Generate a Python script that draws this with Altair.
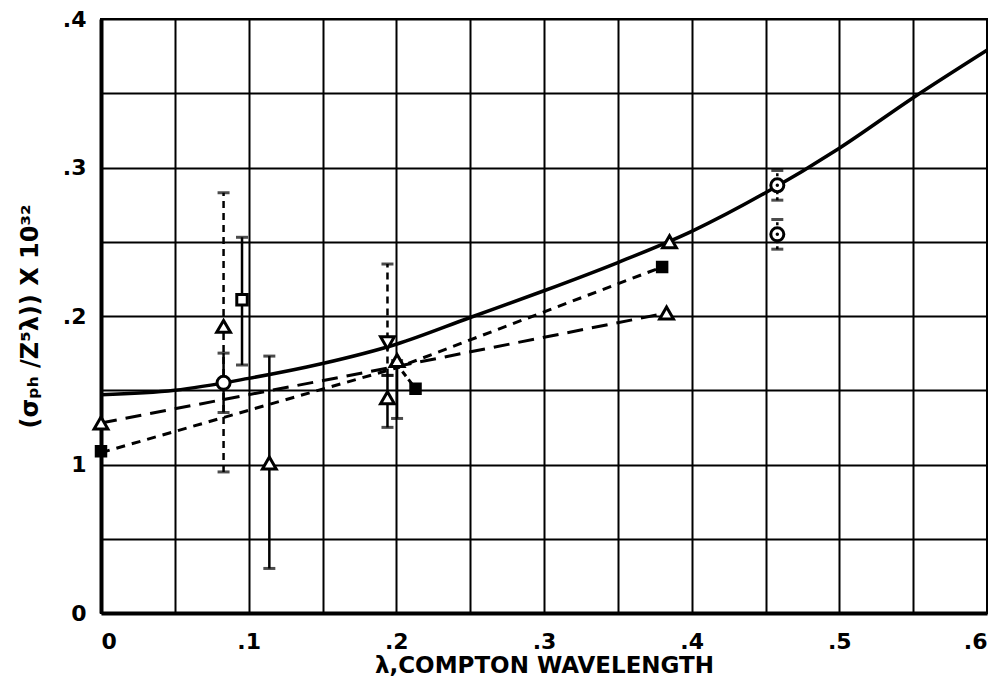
import altair as alt
import pandas as pd

# ---- data ----
curve_x = [0, 0.05, 0.1, 0.15, 0.2, 0.25, 0.3, 0.35, 0.4, 0.45, 0.5, 0.55, 0.6]
curve_y = [0.147, 0.150, 0.158, 0.168, 0.181, 0.199, 0.217, 0.236, 0.257, 0.283, 0.313, 0.347, 0.379]

longdash_x = [0, 0.2, 0.383]
longdash_y = [0.128, 0.166, 0.202]

shortdash_x = [0, 0.2, 0.38]
shortdash_y = [0.108, 0.165, 0.233]

link_x = [0.2, 0.213]
link_y = [0.168, 0.151]

tri_up_x = [0, 0.083, 0.114, 0.194, 0.2005, 0.385, 0.383]
tri_up_y = [0.128, 0.193, 0.101, 0.145, 0.170, 0.250, 0.202]

tri_down_x = [0.194]
tri_down_y = [0.182]

circ_x = [0.083, 0.458, 0.458]
circ_y = [0.155, 0.288, 0.255]

dot_x = [0.458, 0.458]
dot_y = [0.288, 0.255]

osq_x = [0.0955]
osq_y = [0.211]

fsq_x = [0, 0.213, 0.38]
fsq_y = [0.109, 0.151, 0.233]

# error bars: x, low, high
solid_err_x = [0.083, 0.0955, 0.114, 0.194, 0.2005]
solid_err_lo = [0.135, 0.167, 0.030, 0.125, 0.131]
solid_err_hi = [0.175, 0.253, 0.173, 0.160, 0.170]

dash_err_x = [0.083, 0.194]
dash_err_lo = [0.095, 0.160]
dash_err_hi = [0.283, 0.235]

dot_err_x = [0.458, 0.458]
dot_err_lo = [0.245, 0.278]
dot_err_hi = [0.265, 0.298]

x_ticks = [round(i * 0.05, 2) for i in range(13)]
y_ticks = [round(i * 0.05, 2) for i in range(9)]

FONT = "DejaVu Sans"

xs = alt.Scale(domain=[0, 0.6], nice=False, zero=False)
ys = alt.Scale(domain=[0, 0.4], nice=False, zero=False)

x_axis = alt.Axis(
    values=x_ticks,
    labelExpr="datum.value == 0 ? '0' : (round(datum.value*100) % 10 == 0 ? '.' + round(datum.value*10) : '')",
    grid=True, gridColor="black", gridWidth=2, gridOpacity=1,
    domain=True, domainColor="black", domainWidth=4,
    ticks=False, tickSize=0,
    labelFont=FONT, labelFontWeight="bold", labelFontSize=22, labelColor="black",
    labelPadding=18, labelFlush=True,
    title="λ,COMPTON WAVELENGTH",
    titleFont=FONT, titleFontWeight="bold", titleFontSize=23, titleColor="black",
    titleY=52, titleBaseline="middle",
)
y_axis = alt.Axis(
    values=y_ticks,
    labelExpr="datum.value == 0 ? '0' : (datum.value == 0.1 ? '1' : (round(datum.value*100) % 10 == 0 ? '.' + round(datum.value*10) : ''))",
    grid=True, gridColor="black", gridWidth=2, gridOpacity=1,
    domain=True, domainColor="black", domainWidth=4,
    ticks=False, tickSize=0,
    labelFont=FONT, labelFontWeight="bold", labelFontSize=22, labelColor="black",
    labelPadding=15, labelFlush=False,
    title="(σₚₕ /Z⁵λ)) X 10³²",
    titleFont=FONT, titleFontWeight="bold", titleFontSize=24, titleColor="black",
    titleX=-71, titleBaseline="middle", titleAngle=270,
)


def df(x, y):
    return pd.DataFrame({"x": x, "y": y})


def edf(x, lo, hi):
    return pd.DataFrame({"x": x, "lo": lo, "hi": hi})


X = alt.X("x:Q", scale=xs, axis=x_axis)
Y = alt.Y("y:Q", scale=ys, axis=y_axis)
Xn = alt.X("x:Q", scale=xs)
Yn = alt.Y("y:Q", scale=ys)

base = alt.Chart(df(curve_x, curve_y)).mark_line(
    color="black", strokeWidth=3.5, interpolate="monotone"
).encode(x=X, y=Y)

longdash = alt.Chart(df(longdash_x, longdash_y)).mark_line(
    color="black", strokeWidth=3, strokeDash=[16, 9]
).encode(x=Xn, y=Yn)

shortdash = alt.Chart(df(shortdash_x, shortdash_y)).mark_line(
    color="black", strokeWidth=3, strokeDash=[9, 7]
).encode(x=Xn, y=Yn)

link = alt.Chart(df(link_x, link_y)).mark_line(
    color="black", strokeWidth=3, strokeDash=[6, 4]
).encode(x=Xn, y=Yn)


def errbars(x, lo, hi, dash):
    d = edf(x, lo, hi)
    kw = {"color": "black", "strokeWidth": 2.5}
    if dash:
        kw["strokeDash"] = dash
    bar = alt.Chart(d).mark_rule(**kw).encode(
        x=Xn, y=alt.Y("lo:Q", scale=ys), y2="hi:Q"
    )
    cap_lo = alt.Chart(d).mark_tick(
        color="black", orient="horizontal", size=12, thickness=3
    ).encode(x=Xn, y=alt.Y("lo:Q", scale=ys))
    cap_hi = alt.Chart(d).mark_tick(
        color="black", orient="horizontal", size=12, thickness=3
    ).encode(x=Xn, y=alt.Y("hi:Q", scale=ys))
    return bar + cap_lo + cap_hi


err_solid = errbars(solid_err_x, solid_err_lo, solid_err_hi, None)
err_dash = errbars(dash_err_x, dash_err_lo, dash_err_hi, [7, 5])
err_dot = errbars(dot_err_x, dot_err_lo, dot_err_hi, [3, 3])


def pts(x, y, shape, filled, size=170):
    return alt.Chart(df(x, y)).mark_point(
        shape=shape, size=size, filled=False,
        fill="black" if filled else "white", fillOpacity=1,
        stroke="black", strokeWidth=3, opacity=1,
    ).encode(x=Xn, y=Yn)


tri_up = pts(tri_up_x, tri_up_y, "triangle-up", False, 190)
tri_down = pts(tri_down_x, tri_down_y, "triangle-down", False, 190)
circles = pts(circ_x, circ_y, "circle", False, 170)
dots = alt.Chart(df(dot_x, dot_y)).mark_point(
    shape="circle", size=12, filled=True, color="black", opacity=1
).encode(x=Xn, y=Yn)
osq = pts(osq_x, osq_y, "square", False, 110)
fsq = pts(fsq_x, fsq_y, "square", True, 90)

chart = alt.layer(
    base, longdash, shortdash, link,
    err_solid, err_dash, err_dot,
    tri_up, tri_down, circles, dots, osq, fsq,
).properties(
    width=886, height=594,
    autosize=alt.AutoSizeParams(type="none"),
    padding={"left": 93, "top": 11, "right": 1, "bottom": 70},
    background="white",
).configure_view(stroke="black", strokeWidth=2)

chart.save("out.html", embed_options={"renderer": "svg", "actions": False})
